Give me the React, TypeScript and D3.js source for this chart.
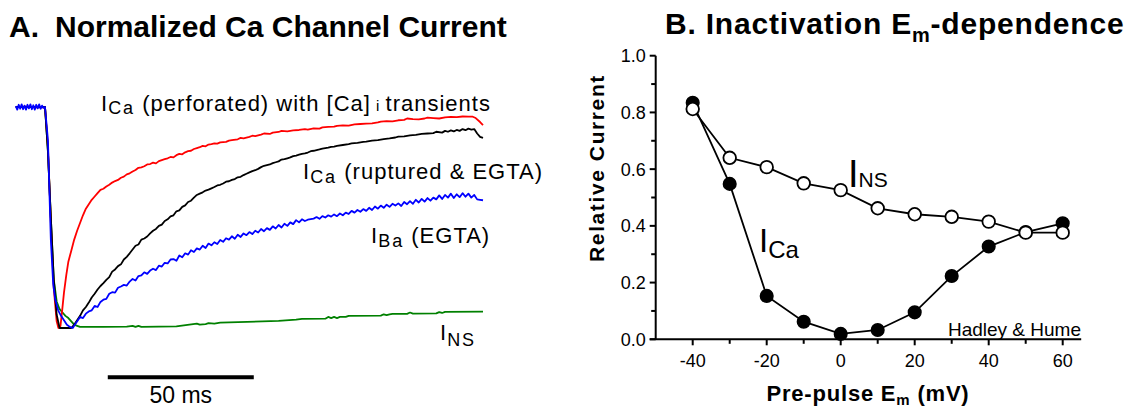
import React from "react";
import * as d3 from "d3";

// ---------- Panel A: normalized current traces (time in ms, current normalized) ----------
const redTrace: [number, number][] = [
  [-10,0],[-6,0.002],[-3,-0.002],[0,0],[1,-0.18],[2,-0.52],[3,-0.82],[4,-0.97],[4.6,-1.0],[5.3,-0.99],[5.8,-0.93],[6.5,-0.84],[7.3,-0.76],[8,-0.70],[9,-0.65],[10,-0.6],[11,-0.56],[12,-0.525],[13,-0.49],[14,-0.46],[15,-0.44],[16,-0.42],[17,-0.405],[18,-0.39],[19,-0.375],[20,-0.37],[21,-0.36],[22,-0.352],[23,-0.342],[24,-0.335],[25,-0.33],[26,-0.32],[27,-0.315],[28,-0.305],[29,-0.3],[30,-0.292],[31,-0.285],[32,-0.275],[33,-0.273],[34,-0.268],[35,-0.26],[36,-0.258],[37,-0.252],[38,-0.255],[39,-0.245],[40,-0.24],[41,-0.236],[42,-0.232],[43,-0.226],[44,-0.228],[45,-0.218],[46,-0.212],[47,-0.214],[48,-0.205],[49,-0.2],[50,-0.198],[51,-0.19],[52,-0.186],[53,-0.182],[54,-0.176],[55,-0.178],[56,-0.17],[57,-0.168],[58,-0.165],[59,-0.166],[60,-0.16],[62,-0.158],[63,-0.152],[64,-0.15],[66,-0.146],[67,-0.14],[68,-0.142],[70,-0.135],[71,-0.13],[72,-0.132],[74,-0.125],[75,-0.12],[77,-0.122],[78,-0.116],[80,-0.113],[81,-0.108],[83,-0.11],[85,-0.106],[87,-0.104],[89,-0.1],[90,-0.102],[92,-0.097],[94,-0.098],[95,-0.092],[97,-0.09],[99,-0.089],[100,-0.085],[102,-0.083],[104,-0.084],[106,-0.079],[108,-0.077],[110,-0.075],[112,-0.074],[114,-0.07],[115,-0.066],[117,-0.064],[119,-0.065],[121,-0.06],[123,-0.058],[124,-0.052],[126,-0.055],[128,-0.056],[130,-0.052],[131,-0.048],[133,-0.05],[135,-0.052],[137,-0.047],[139,-0.045],[141,-0.046],[143,-0.043],[145,-0.044],[146.5,-0.044],[147.5,-0.05],[149,-0.068],[150,-0.082]
];

const blackTrace: [number, number][] = [
  [-10,0],[-5,0],[0,0],[1,-0.2],[2,-0.5],[3,-0.78],[4,-0.94],[5,-1.0],[7,-1.0],[9,-1.0],[10,-0.985],[11,-0.965],[12,-0.945],[13,-0.92],[14,-0.905],[15,-0.885],[16,-0.862],[17,-0.845],[18,-0.826],[19,-0.81],[20,-0.797],[21,-0.782],[22,-0.77],[23,-0.745],[24,-0.735],[25,-0.72],[26,-0.712],[27,-0.69],[28,-0.678],[29,-0.662],[30,-0.645],[31,-0.628],[32,-0.622],[33,-0.6],[34,-0.595],[35,-0.586],[36,-0.572],[37,-0.56],[38,-0.552],[39,-0.538],[40,-0.532],[41,-0.516],[42,-0.508],[43,-0.495],[44,-0.49],[45,-0.472],[46,-0.468],[47,-0.452],[48,-0.445],[49,-0.43],[50,-0.424],[51,-0.41],[52,-0.398],[53,-0.392],[54,-0.386],[55,-0.378],[56,-0.374],[57,-0.368],[58,-0.362],[59,-0.355],[60,-0.352],[61,-0.346],[62,-0.338],[63,-0.336],[64,-0.33],[65,-0.326],[66,-0.318],[67,-0.316],[68,-0.308],[69,-0.302],[70,-0.296],[71,-0.29],[72,-0.286],[73,-0.28],[74,-0.272],[75,-0.266],[76,-0.263],[77,-0.26],[78,-0.254],[79,-0.25],[80,-0.246],[81,-0.238],[82,-0.236],[83,-0.232],[84,-0.228],[85,-0.222],[86,-0.22],[87,-0.216],[88,-0.212],[89,-0.21],[90,-0.206],[91,-0.2],[92,-0.198],[93,-0.195],[94,-0.192],[95,-0.188],[96,-0.186],[97,-0.184],[98,-0.18],[99,-0.179],[100,-0.176],[102,-0.172],[104,-0.168],[105,-0.165],[107,-0.162],[109,-0.158],[110,-0.157],[112,-0.152],[114,-0.15],[116,-0.145],[118,-0.142],[120,-0.138],[121,-0.134],[123,-0.133],[125,-0.128],[127,-0.126],[129,-0.122],[131,-0.12],[133,-0.118],[134,-0.112],[136,-0.116],[137,-0.108],[138,-0.112],[139,-0.106],[140,-0.11],[141,-0.104],[142,-0.108],[143,-0.1],[144,-0.105],[145,-0.098],[146,-0.102],[147,-0.1],[148,-0.12],[149,-0.135],[150,-0.14]
];

const blueTrace: [number, number][] = [
  [-10,0.004],[-9.5,-0.012],[-9,0.01],[-8.5,-0.008],[-8,0.012],[-7.5,-0.01],[-7,0.006],[-6.5,-0.012],[-6,0.01],[-5.5,-0.006],[-5,0.012],[-4.5,-0.01],[-4,0.008],[-3.5,-0.012],[-3,0.01],[-2.5,-0.006],[-2,0.012],[-1.5,-0.008],[-1,0.006],[-0.5,-0.004],[0,0],[1,-0.15],[2,-0.6],[2.8,-0.8],[3.5,-0.87],[4.5,-0.92],[5.5,-0.945],[6.5,-0.965],[7.5,-0.985],[8.5,-0.995],[9.5,-1.0],[10.5,-0.98],[11.5,-0.96],[12,-0.95],[13,-0.955],[14,-0.935],[15,-0.925],[16,-0.92],[17,-0.9],[18,-0.905],[19,-0.882],[20,-0.872],[21,-0.868],[22,-0.845],[23,-0.838],[24,-0.84],[25,-0.818],[26,-0.812],[27,-0.805],[28,-0.808],[29,-0.79],[30,-0.778],[31,-0.785],[32,-0.765],[33,-0.762],[34,-0.748],[35,-0.755],[36,-0.74],[37,-0.732],[38,-0.738],[39,-0.718],[40,-0.722],[41,-0.705],[42,-0.708],[43,-0.69],[44,-0.688],[45,-0.696],[46,-0.672],[47,-0.68],[48,-0.662],[49,-0.668],[50,-0.648],[51,-0.656],[52,-0.64],[53,-0.645],[54,-0.628],[55,-0.638],[56,-0.618],[57,-0.626],[58,-0.612],[59,-0.62],[60,-0.602],[61,-0.61],[62,-0.594],[63,-0.6],[64,-0.585],[65,-0.596],[66,-0.578],[67,-0.588],[68,-0.572],[69,-0.58],[70,-0.566],[71,-0.575],[72,-0.56],[73,-0.568],[74,-0.552],[75,-0.562],[76,-0.548],[77,-0.556],[78,-0.54],[79,-0.55],[80,-0.534],[81,-0.545],[82,-0.528],[83,-0.538],[84,-0.522],[85,-0.53],[86,-0.512],[87,-0.522],[88,-0.508],[89,-0.516],[90,-0.51],[92,-0.505],[93,-0.498],[94,-0.506],[95,-0.494],[96,-0.5],[97,-0.49],[98,-0.496],[99,-0.486],[100,-0.494],[101,-0.482],[102,-0.49],[103,-0.478],[104,-0.484],[105,-0.47],[106,-0.478],[107,-0.466],[108,-0.474],[109,-0.462],[110,-0.47],[111,-0.456],[112,-0.466],[113,-0.45],[114,-0.46],[115,-0.446],[116,-0.456],[117,-0.442],[118,-0.452],[119,-0.438],[120,-0.446],[121,-0.436],[122,-0.448],[123,-0.43],[124,-0.44],[125,-0.426],[126,-0.438],[127,-0.42],[128,-0.432],[129,-0.416],[130,-0.428],[131,-0.412],[132,-0.424],[133,-0.41],[134,-0.418],[135,-0.4],[136,-0.416],[137,-0.398],[138,-0.41],[139,-0.392],[140,-0.412],[141,-0.395],[142,-0.408],[143,-0.39],[144,-0.406],[145,-0.392],[146,-0.41],[147,-0.398],[148,-0.418],[149,-0.42],[150,-0.422]
];

const greenTrace: [number, number][] = [
  [-10,0],[-5,0],[0,0],[1,-0.2],[2,-0.5],[3,-0.78],[4,-0.88],[5,-0.915],[6,-0.93],[7,-0.945],[8,-0.955],[9,-0.97],[10,-0.985],[11,-0.99],[12,-0.995],[20,-0.995],[28,-0.994],[30,-0.99],[31,-0.995],[32,-0.99],[33,-0.995],[45,-0.993],[52,-0.98],[53,-0.985],[55,-0.982],[56,-0.978],[58,-0.98],[60,-0.976],[80,-0.968],[86,-0.962],[88,-0.959],[96,-0.958],[97,-0.95],[98,-0.955],[99,-0.95],[100,-0.955],[101,-0.95],[103,-0.95],[104,-0.945],[115,-0.944],[116,-0.938],[117,-0.942],[118,-0.938],[119,-0.936],[124,-0.936],[125,-0.93],[126,-0.935],[134,-0.934],[135,-0.928],[136,-0.932],[137,-0.927],[150,-0.926]
];

const scaleBarStartMs = 21.5;
const scaleBarLengthMs = 50;

// ---------- Panel B: inactivation vs pre-pulse Em ----------
const prePulseEm = [-40, -30, -20, -10, 0, 10, 20, 30, 40, 50, 60];
const relICa = [0.834, 0.548, 0.153, 0.062, 0.019, 0.033, 0.095, 0.223, 0.327, 0.378, 0.409];
const relINS = [0.812, 0.64, 0.607, 0.55, 0.526, 0.462, 0.441, 0.432, 0.415, 0.376, 0.376];
const xMajorTicks = [-40, -20, 0, 20, 40, 60];
const xMinorTicks = [-30, -10, 10, 30, 50];
const yMajorTicks = [0, 0.2, 0.4, 0.6, 0.8, 1.0];
const yMinorTicks = [0.1, 0.3, 0.5, 0.7, 0.9];

const FONT = "'Liberation Sans', Arial, Helvetica, sans-serif";

export default function App() {
  const xA = d3.scaleLinear().domain([-10, 150]).range([15.8, 483]);
  const yA = d3.scaleLinear().domain([-1, 0]).range([328, 107]);
  const lineA = d3.line<[number, number]>().x((d) => xA(d[0])).y((d) => yA(d[1]));

  const xB = d3.scaleLinear().domain([-50, 65]).range([655.7, 1081.2]);
  const yB = d3.scaleLinear().domain([0, 1]).range([339.3, 55.7]);
  const lineB = d3.line<number>().x((_, i) => xB(prePulseEm[i])).y((d) => yB(d));

  const x0 = xB(-50);
  const y0 = yB(0);
  const fmt = d3.format(".1f");

  return (
    <svg
      width={1140}
      height={409}
      style={{ position: "absolute", left: 0, top: 0, background: "#fff" }}
      fontFamily={FONT}
    >
      <rect x={0} y={0} width={1140} height={409} fill="#fff" />
      {/* Titles */}
      <text y={36.7} fontSize={30} fontWeight="bold" fill="#000">
        <tspan x={9}>A.</tspan>
        <tspan x={55}>Normalized Ca Channel Current</tspan>
      </text>
      <text x={665} y={33.5} fontSize={30} fontWeight="bold" letterSpacing={0.8} fill="#000">
        B. Inactivation E<tspan fontSize={20} dy={8}>m</tspan>
        <tspan dy={-8}>-dependence</tspan>
      </text>

      {/* Panel A traces */}
      <g fill="none" strokeWidth={1.8} strokeLinejoin="round">
        <path d={lineA(greenTrace) || ""} stroke="#008000" />
        <path d={lineA(redTrace) || ""} stroke="#ff0000" />
        <path d={lineA(blackTrace) || ""} stroke="#000000" />
        <path d={lineA(blueTrace) || ""} stroke="#0000ff" />
      </g>

      {/* Panel A labels */}
      <g fontSize={22} fill="#000" letterSpacing={1}>
        <text x={101} y={111}>
          I<tspan fontSize={18} dy={3} letterSpacing={2}>Ca</tspan>
          <tspan dy={-3}> (perforated) with [Ca]</tspan>
          <tspan fontSize={15}> i </tspan>
          <tspan>transients</tspan>
        </text>
        <text x={303} y={179}>
          I<tspan fontSize={18} dy={4} letterSpacing={2}>Ca</tspan>
          <tspan dy={-4}> (ruptured &amp; EGTA)</tspan>
        </text>
        <text x={371} y={243}>
          I<tspan fontSize={18} dy={4} letterSpacing={2}>Ba</tspan>
          <tspan dy={-4}> (EGTA)</tspan>
        </text>
        <text x={440} y={340}>
          I<tspan fontSize={18} dy={6} letterSpacing={2}>NS</tspan>
        </text>
      </g>

      {/* Scale bar */}
      <line
        x1={xA(scaleBarStartMs)}
        x2={xA(scaleBarStartMs + scaleBarLengthMs)}
        y1={377.3}
        y2={377.3}
        stroke="#000"
        strokeWidth={4}
      />
      <text
        x={(xA(scaleBarStartMs) + xA(scaleBarStartMs + scaleBarLengthMs)) / 2}
        y={403}
        fontSize={23}
        textAnchor="middle"
        fill="#000"
      >
        50 ms
      </text>

      {/* Panel B axes */}
      <g stroke="#000" strokeWidth={2} fill="none">
        <line x1={x0} x2={x0} y1={yB(1)} y2={y0} />
        <line x1={x0 - 6} x2={xB(65)} y1={y0} y2={y0} />
        {yMajorTicks.map((t) => (
          <line key={"ym" + t} x1={x0 - 6} x2={x0} y1={yB(t)} y2={yB(t)} />
        ))}
        {yMinorTicks.map((t) => (
          <line key={"yn" + t} x1={x0 - 4.5} x2={x0} y1={yB(t)} y2={yB(t)} />
        ))}
        {xMajorTicks.map((t) => (
          <line key={"xm" + t} x1={xB(t)} x2={xB(t)} y1={y0} y2={y0 + 6} />
        ))}
        {xMinorTicks.map((t) => (
          <line key={"xn" + t} x1={xB(t)} x2={xB(t)} y1={y0} y2={y0 + 4.5} />
        ))}
      </g>
      <g fontSize={18} fill="#000">
        {yMajorTicks.map((t) => (
          <text key={"yl" + t} x={x0 - 10} y={yB(t)} dy="0.36em" textAnchor="end">
            {fmt(t)}
          </text>
        ))}
        {xMajorTicks.map((t) => (
          <text key={"xl" + t} x={xB(t)} y={366.5} textAnchor="middle">
            {String(t)}
          </text>
        ))}
      </g>
      <text
        transform={`translate(604,168) rotate(-90)`}
        textAnchor="middle"
        fontSize={21}
        fontWeight="bold"
        letterSpacing={1.6}
        fill="#000"
      >
        Relative Current
      </text>
      <text x={868} y={401} textAnchor="middle" fontSize={22} fontWeight="bold" letterSpacing={0.8} fill="#000">
        Pre-pulse E<tspan fontSize={15} dy={4}>m</tspan>
        <tspan dy={-4}> (mV)</tspan>
      </text>

      {/* Panel B data */}
      <path d={lineB(relICa) || ""} fill="none" stroke="#000" strokeWidth={1.8} />
      {relICa.map((v, i) => (
        <circle key={"c" + i} cx={xB(prePulseEm[i])} cy={yB(v)} r={6.3} fill="#000" stroke="#000" strokeWidth={1.5} />
      ))}
      <path d={lineB(relINS) || ""} fill="none" stroke="#000" strokeWidth={1.8} />
      {relINS.map((v, i) => (
        <circle key={"o" + i} cx={xB(prePulseEm[i])} cy={yB(v)} r={6.3} fill="#fff" stroke="#000" strokeWidth={1.8} />
      ))}

      {/* Panel B labels */}
      <text x={848} y={186.7} fontSize={38} fill="#000">
        I<tspan fontSize={21}>NS</tspan>
      </text>
      <text x={759} y={252} fontSize={33} fill="#000">
        I<tspan fontSize={24} dy={6}>Ca</tspan>
      </text>
      <text x={1081} y={336} fontSize={19} textAnchor="end" fill="#000">
        Hadley &amp; Hume
      </text>
    </svg>
  );
}
